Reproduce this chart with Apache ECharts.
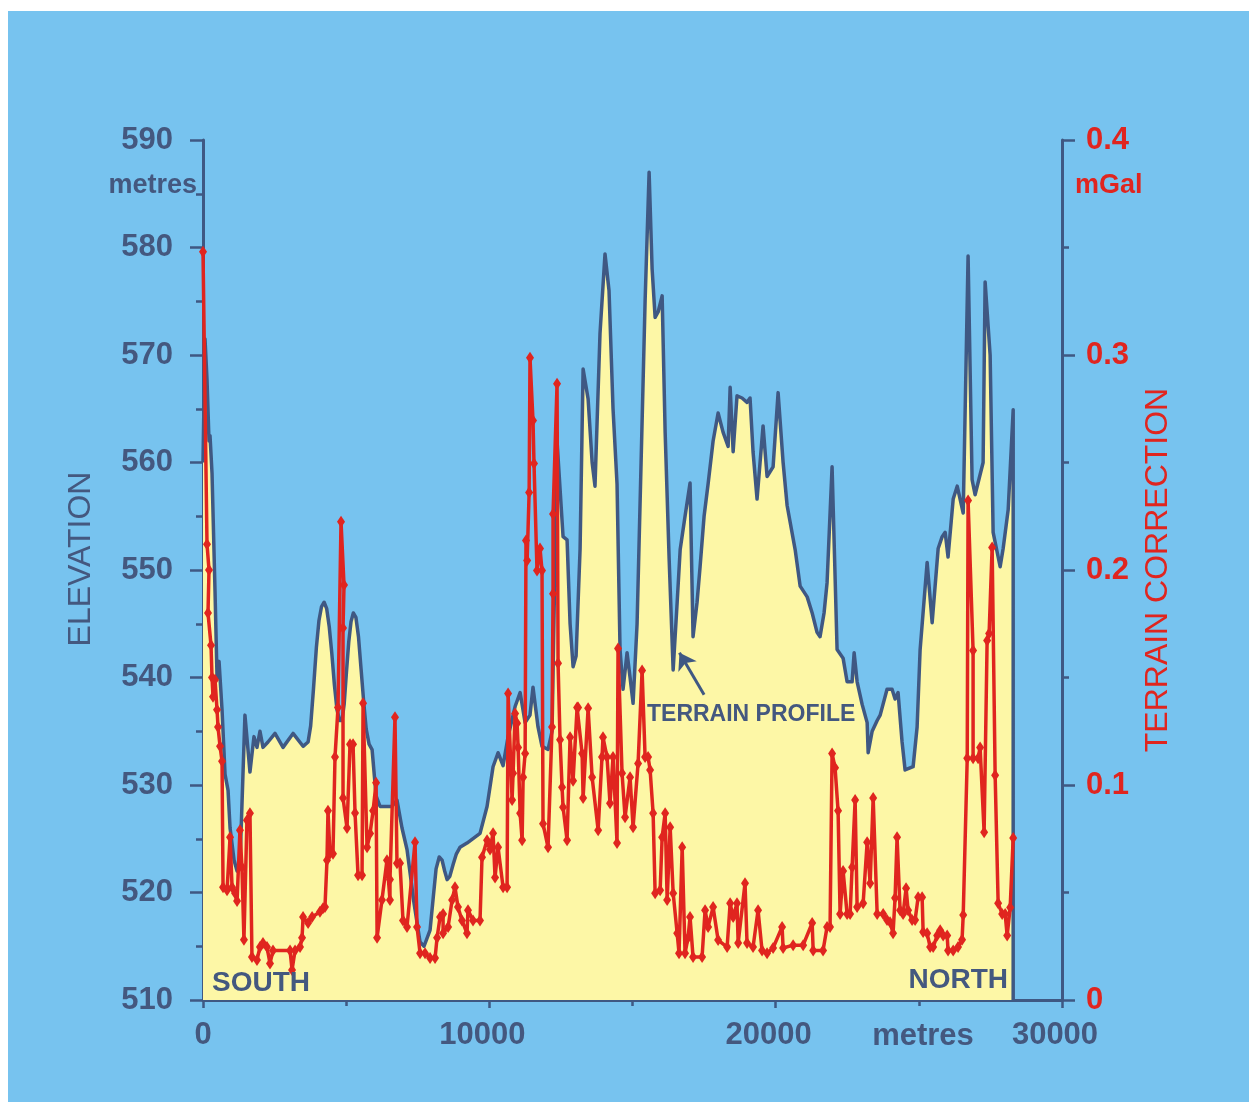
<!DOCTYPE html>
<html>
<head>
<meta charset="utf-8">
<script src="https://cdn.jsdelivr.net/npm/echarts@6/dist/echarts.min.js"></script>
<style>
  html, body { margin: 0; padding: 0; background: #ffffff; }
  #chart { width: 1249px; height: 1102px; }
</style>
</head>
<body>
<div id="chart"></div>
<script>
// terrain profile: distance (m) -> elevation (m)
const profileDist = [0, 70, 140, 210, 245, 315, 420, 490, 560, 665, 770, 875, 945, 1085, 1190, 1290, 1465, 1640, 1780, 1885,
  1990, 2095, 2270, 2515, 2795, 3145, 3495, 3670, 3760, 3860, 3960, 4050, 4140, 4230, 4320, 4410, 4500, 4590, 4680, 4770,
  4855, 4930, 5010, 5090, 5170, 5250, 5340, 5430, 5520, 5610, 5700, 5800, 5905, 6045, 6185, 6600, 6775, 6950, 7125, 7370,
  7580, 7720, 7930, 8040, 8140, 8250, 8350, 8440, 8525, 8620, 8735, 8850, 8975, 9220, 9675, 9920,
  10130, 10305, 10480, 10655, 10900, 11075, 11250, 11420, 11525, 11700, 11840, 12050, 12190, 12365, 12575, 12715, 12820, 12925, 13030, 13170,
  13275, 13450, 13590, 13690, 13865, 14040, 14180, 14320, 14460, 14565, 14670, 14810, 14915, 15020, 15160, 15300, 15440, 15580, 15685, 15790,
  15895, 16035, 16140, 16280, 16420, 16560, 16665, 16835, 17010, 17115, 17255, 17360, 17500, 17640, 17815, 17990, 18165, 18340, 18410, 18515,
  18650, 18825, 19000, 19105, 19210, 19350, 19560, 19700, 19910, 20085, 20260, 20400, 20680, 20855, 21100, 21275, 21445, 21550, 21690, 21795,
  21970, 22145, 22355, 22495, 22670, 22740, 22845, 23020, 23195, 23230, 23370, 23545, 23650, 23890, 24065, 24170, 24275, 24415, 24520, 24800,
  24940, 25045, 25290, 25465, 25675, 25815, 25920, 26020, 26200, 26340, 26550, 26720, 26860, 26965, 27245, 27315, 27490, 27595, 27840, 27945,
  28120, 28295, 28295];
const profileElev = [560, 571.5, 567.7, 562, 562.5, 559, 548, 540, 541.5, 537, 531, 529.5, 526, 523, 522, 522.5, 536.5, 531.2, 534.5, 533.5,
  535, 533.5, 534, 534.8, 533.5, 534.8, 533.6, 534, 535.5, 539, 542.8, 545.3, 546.6, 547, 546.4, 544.7, 542.2, 539.3, 537, 536,
  536, 537.5, 540.5, 543.3, 545.2, 546, 545.6, 543.8, 540.8, 537.8, 535.2, 533.8, 533.3, 529, 528, 528, 528.6, 526, 524, 519,
  515.4, 515, 516.5, 519.5, 522.2, 523.3, 523, 522, 521.2, 521.5, 522.6, 523.6, 524.2, 524.6, 525.5, 528,
  531.7, 533, 531.8, 534.5, 537.3, 538.6, 535.8, 536.5, 539.1, 535.4, 533.6, 533.3, 535, 562, 553.1, 552.8, 545, 541, 542, 552,
  568.7, 565.9, 560, 557.8, 572, 579.4, 576, 565, 558, 542.6, 538.9, 542.3, 540, 537.6, 545, 560, 575, 587, 578, 573.5,
  574, 575.5, 562.8, 551, 540.7, 547, 551.9, 555, 558.1, 543.8, 547, 550.3, 555, 558, 562, 564.6, 562.8, 561.5, 567, 561,
  566.2, 566, 565.6, 566, 561, 556.6, 563.4, 558.7, 559.6, 566.5, 560, 556, 551.9, 548.5, 547.5, 546, 544.2, 543.8, 546, 548.8,
  559.6, 542.6, 541.8, 539.6, 539.6, 542.3, 539.6, 537.5, 535.8, 533, 535, 536, 536.5, 538.9, 538.9, 538, 538.6, 534, 531.4, 531.7,
  535.4, 542.6, 550.7, 545.1, 552, 553.1, 553.5, 551.2, 556.6, 557.8, 555.3, 579.2, 558.4, 557, 560, 576.8, 570, 553.5, 550.3, 552,
  555.6, 564.9, 510];

// terrain correction: distance (m) -> mGal
const tcDist = [0, 140, 210, 175, 280, 315, 350, 420, 490, 525, 595, 665, 700, 840, 945, 1015, 1120, 1190, 1290, 1360,
  1430, 1535, 1640, 1710, 1885, 1990, 2095, 2235, 2340, 2445, 3040, 3110, 3215, 3390, 3460, 3495, 3670, 3810, 4085, 4190,
  4260, 4330, 4365, 4435, 4540, 4610, 4715, 4820, 4925, 4890, 4890, 5030, 5135, 5240, 5310, 5415, 5555, 5590, 5730, 5835,
  5940, 6045, 6080, 6250, 6425, 6530, 6530, 6705, 6775, 6880, 6985, 7125, 7405, 7475, 7580, 7755, 7930, 8105, 8175, 8280,
  8385, 8385, 8560, 8700, 8800, 8905, 9045, 9220, 9255, 9430, 9675, 9745, 9920, 10025, 10130, 10200, 10305, 10480, 10620, 10655,
  10795, 10830, 10900, 10970, 11005, 11075, 11145, 11180, 11250, 11280, 11320, 11390, 11420, 11525, 11560, 11665, 11770, 11840, 11875, 12050,
  12190, 12225, 12225, 12365, 12400, 12470, 12540, 12575, 12715, 12820, 12925, 13065, 13100, 13240, 13275, 13450, 13590, 13800, 13935, 13970,
  14110, 14215, 14320, 14460, 14495, 14635, 14740, 14915, 15020, 15195, 15335, 15440, 15545, 15615, 15720, 15790, 15965, 16035, 16140, 16210,
  16315, 16420, 16560, 16625, 16735, 16835, 16940, 17010, 17115, 17430, 17535, 17640, 17815, 17990, 18305, 18410, 18515, 18650, 18690, 18930,
  19000, 19210, 19385, 19525, 19700, 19910, 20225, 20260, 20610, 20960, 21275, 21310, 21655, 21795, 21900, 21970, 22075, 22180, 22250, 22355,
  22495, 22600, 22670, 22775, 22845, 23055, 23195, 23300, 23405, 23545, 23755, 23890, 23995, 24100, 24170, 24240, 24345, 24450, 24555, 24625,
  24765, 24870, 24975, 25115, 25150, 25290, 25395, 25500, 25640, 25745, 25850, 25990, 26020, 26200, 26370, 26510, 26550, 26690, 26720, 26895,
  26895, 27070, 27140, 27280, 27385, 27455, 27560, 27665, 27770, 27910, 28015, 28085, 28190, 28295];
const tcVal = [0.348, 0.212, 0.2, 0.18, 0.165, 0.15, 0.141, 0.149, 0.135, 0.127, 0.118, 0.111, 0.0525, 0.051, 0.0757, 0.0525, 0.0497, 0.046, 0.079, 0.0618,
  0.028, 0.0836, 0.0869, 0.02, 0.0186, 0.0246, 0.0265, 0.0246, 0.017, 0.023, 0.023, 0.014, 0.023, 0.0246, 0.029, 0.0386, 0.0358, 0.0386, 0.041, 0.0427,
  0.0432, 0.065, 0.088, 0.068, 0.068, 0.113, 0.136, 0.2225, 0.193, 0.173, 0.094, 0.08, 0.119, 0.119, 0.087, 0.058, 0.058, 0.138, 0.071, 0.0775,
  0.088, 0.101, 0.029, 0.0465, 0.065, 0.0465, 0.056, 0.1315, 0.0636, 0.0636, 0.037, 0.034, 0.0734, 0.034, 0.0218, 0.0218, 0.0195, 0.0195, 0.029, 0.0386,
  0.04, 0.031, 0.034, 0.0465, 0.0525, 0.0432, 0.037, 0.031, 0.0418, 0.037, 0.037, 0.0664, 0.0743, 0.07, 0.0776, 0.057, 0.071, 0.0525, 0.0525, 0.1426,
  0.093, 0.1055, 0.1333, 0.1287, 0.1175, 0.0869, 0.0743, 0.1036, 0.1147, 0.2137, 0.2044, 0.236, 0.2987, 0.2695, 0.2495, 0.1998, 0.21, 0.1998, 0.082, 0.071,
  0.127, 0.189, 0.226, 0.2866, 0.1566, 0.121, 0.099, 0.0897, 0.0743, 0.1222, 0.102, 0.136, 0.136, 0.1147, 0.094, 0.1357, 0.1036, 0.079, 0.113, 0.1222,
  0.113, 0.0915, 0.113, 0.073, 0.1635, 0.1055, 0.085, 0.1036, 0.0804, 0.11, 0.1533, 0.113, 0.113, 0.107, 0.0869, 0.0497, 0.051, 0.0757, 0.0869, 0.0465,
  0.0804, 0.0497, 0.031, 0.0218, 0.071, 0.0218, 0.029, 0.0386, 0.02, 0.02, 0.0418, 0.034, 0.0432, 0.0279, 0.0246, 0.045, 0.0386, 0.045, 0.0265, 0.0543,
  0.0265, 0.0246, 0.0418, 0.023, 0.0218, 0.0242, 0.034, 0.0242, 0.0255, 0.0255, 0.0358, 0.023, 0.023, 0.034, 0.034, 0.1147, 0.108, 0.088, 0.04, 0.06,
  0.04, 0.04, 0.0618, 0.093, 0.0432, 0.045, 0.0734, 0.0543, 0.094, 0.04, 0.04, 0.0372, 0.0362, 0.031, 0.0474, 0.0757, 0.0418, 0.04, 0.052, 0.0418,
  0.0372, 0.0372, 0.0478, 0.0478, 0.0316, 0.031, 0.0246, 0.0246, 0.03, 0.0325, 0.03, 0.03, 0.023, 0.023, 0.0246, 0.028, 0.0395, 0.1124, 0.2323, 0.1626,
  0.1124, 0.1124, 0.1175, 0.078, 0.1672, 0.1705, 0.2105, 0.1045, 0.045, 0.04, 0.04, 0.03, 0.043, 0.0753];

// arrow pointing at the profile (distance, elevation)
const arrowTail = [17500, 538.4];
const arrowHead = [16640, 542.3];

const xTicks = { min: 0, max: 30000, interval: 10000 };
const elevTicks = { min: 510, max: 590, interval: 10 };
const tcTicks = { min: 0, max: 0.4, interval: 0.1 };

const BG = "#77c3ef", FILL = "#fdf7a6", DARK = "#3f5883", LABEL = "#44587f", RED = "#e0251f";
const FONT = "'Liberation Sans', Arial, sans-serif";

const chart = echarts.init(document.getElementById("chart"), null, { renderer: "canvas" });

const axisCommon = {
    axisLine: { show: true, onZero: false, lineStyle: { color: DARK, width: 3 } },
    axisTick: { show: true, inside: false, length: 13, lineStyle: { color: DARK, width: 2.5 } },
    minorTick: { show: true, splitNumber: 2, length: 7, lineStyle: { color: DARK, width: 2.5 } },
    splitLine: { show: false }
};

chart.setOption({
    backgroundColor: "#ffffff",
    animation: false,
    grid: { left: 203, right: 187, top: 140, bottom: 102, containLabel: false, outerBoundsMode: "none" },
    xAxis: Object.assign({}, axisCommon, {
        type: "value", min: xTicks.min, max: xTicks.max, interval: xTicks.interval,
        axisTick: { show: true, length: 8, lineStyle: { color: DARK, width: 2.5 } },
        minorTick: { show: true, splitNumber: 2, length: 6, lineStyle: { color: DARK, width: 2.5 } },
        axisLabel: {
            color: LABEL, fontSize: 31, fontWeight: "bold", fontFamily: FONT, margin: 20,
            // the long labels sit a little left of their ticks in the original
            formatter: v => v === 0 ? "{z|0}" : "{n|" + v + "}",
            rich: {
                z: { color: LABEL, fontSize: 31, fontWeight: "bold", fontFamily: FONT },
                n: { color: LABEL, fontSize: 31, fontWeight: "bold", fontFamily: FONT, padding: [0, 14, 0, 0] }
            }
        }
    }),
    yAxis: [
        Object.assign({}, axisCommon, {
            type: "value", position: "left", min: elevTicks.min, max: elevTicks.max, interval: elevTicks.interval,
            axisLabel: { color: LABEL, fontSize: 31, fontWeight: "bold", fontFamily: FONT, margin: 30 }
        }),
        Object.assign({}, axisCommon, {
            type: "value", position: "right", min: tcTicks.min, max: tcTicks.max, interval: tcTicks.interval,
            axisLabel: { color: RED, fontSize: 31, fontWeight: "bold", fontFamily: FONT, margin: 24,
                formatter: v => v === 0 ? "0" : v.toFixed(1) }
        })
    ],
    graphic: [
        { type: "rect", z: -10, silent: true, shape: { x: 8, y: 11, width: 1241, height: 1091 }, style: { fill: BG } },
        { type: "text", x: 197, y: 186, style: { text: "metres", fill: LABEL, font: "bold 27px " + FONT, align: "right", verticalAlign: "middle" } },
        { type: "text", x: 1075, y: 186, style: { text: "mGal", fill: RED, font: "bold 27px " + FONT, align: "left", verticalAlign: "middle" } },
        { type: "text", x: 81, y: 559, rotation: Math.PI / 2, style: { text: "ELEVATION", fill: LABEL, font: "32px " + FONT, align: "center", verticalAlign: "middle" } },
        { type: "text", x: 1158, y: 570, rotation: Math.PI / 2, style: { text: "TERRAIN CORRECTION", fill: RED, font: "32px " + FONT, align: "center", verticalAlign: "middle" } },
        { type: "text", x: 212, y: 983, z: 10, style: { text: "SOUTH", fill: LABEL, font: "bold 28px " + FONT, align: "left", verticalAlign: "middle" } },
        { type: "text", x: 1008, y: 980, z: 10, style: { text: "NORTH", fill: LABEL, font: "bold 28px " + FONT, align: "right", verticalAlign: "middle" } },
        { type: "text", x: 647, y: 715, z: 10, style: { text: "TERRAIN PROFILE", fill: LABEL, font: "bold 23px " + FONT, align: "left", verticalAlign: "middle" } },
        { type: "text", x: 923, y: 1036, style: { text: "metres", fill: LABEL, font: "bold 31px " + FONT, align: "center", verticalAlign: "middle" } }
    ],
    series: [
        {
            name: "Terrain profile", type: "line", xAxisIndex: 0, yAxisIndex: 0,
            data: profileDist.map((d, i) => [d, profileElev[i]]),
            showSymbol: false, symbol: "none",
            lineStyle: { color: DARK, width: 3.5, join: "round" },
            areaStyle: { color: FILL, opacity: 1, origin: "start" },
            z: 2,
            markLine: {
                silent: true, symbol: ["none", "arrow"], symbolSize: 16,
                label: { show: false },
                lineStyle: { color: DARK, width: 3, type: "solid" },
                data: [[{ coord: arrowTail }, { coord: arrowHead }]]
            }
        },
        {
            name: "Terrain correction", type: "line", xAxisIndex: 0, yAxisIndex: 1,
            data: tcDist.map((d, i) => [d, tcVal[i]]),
            showAllSymbol: true, symbol: "diamond", symbolSize: [8, 12],
            itemStyle: { color: RED },
            lineStyle: { color: RED, width: 3.5, join: "round" },
            z: 3
        }
    ]
});
</script>
</body>
</html>
